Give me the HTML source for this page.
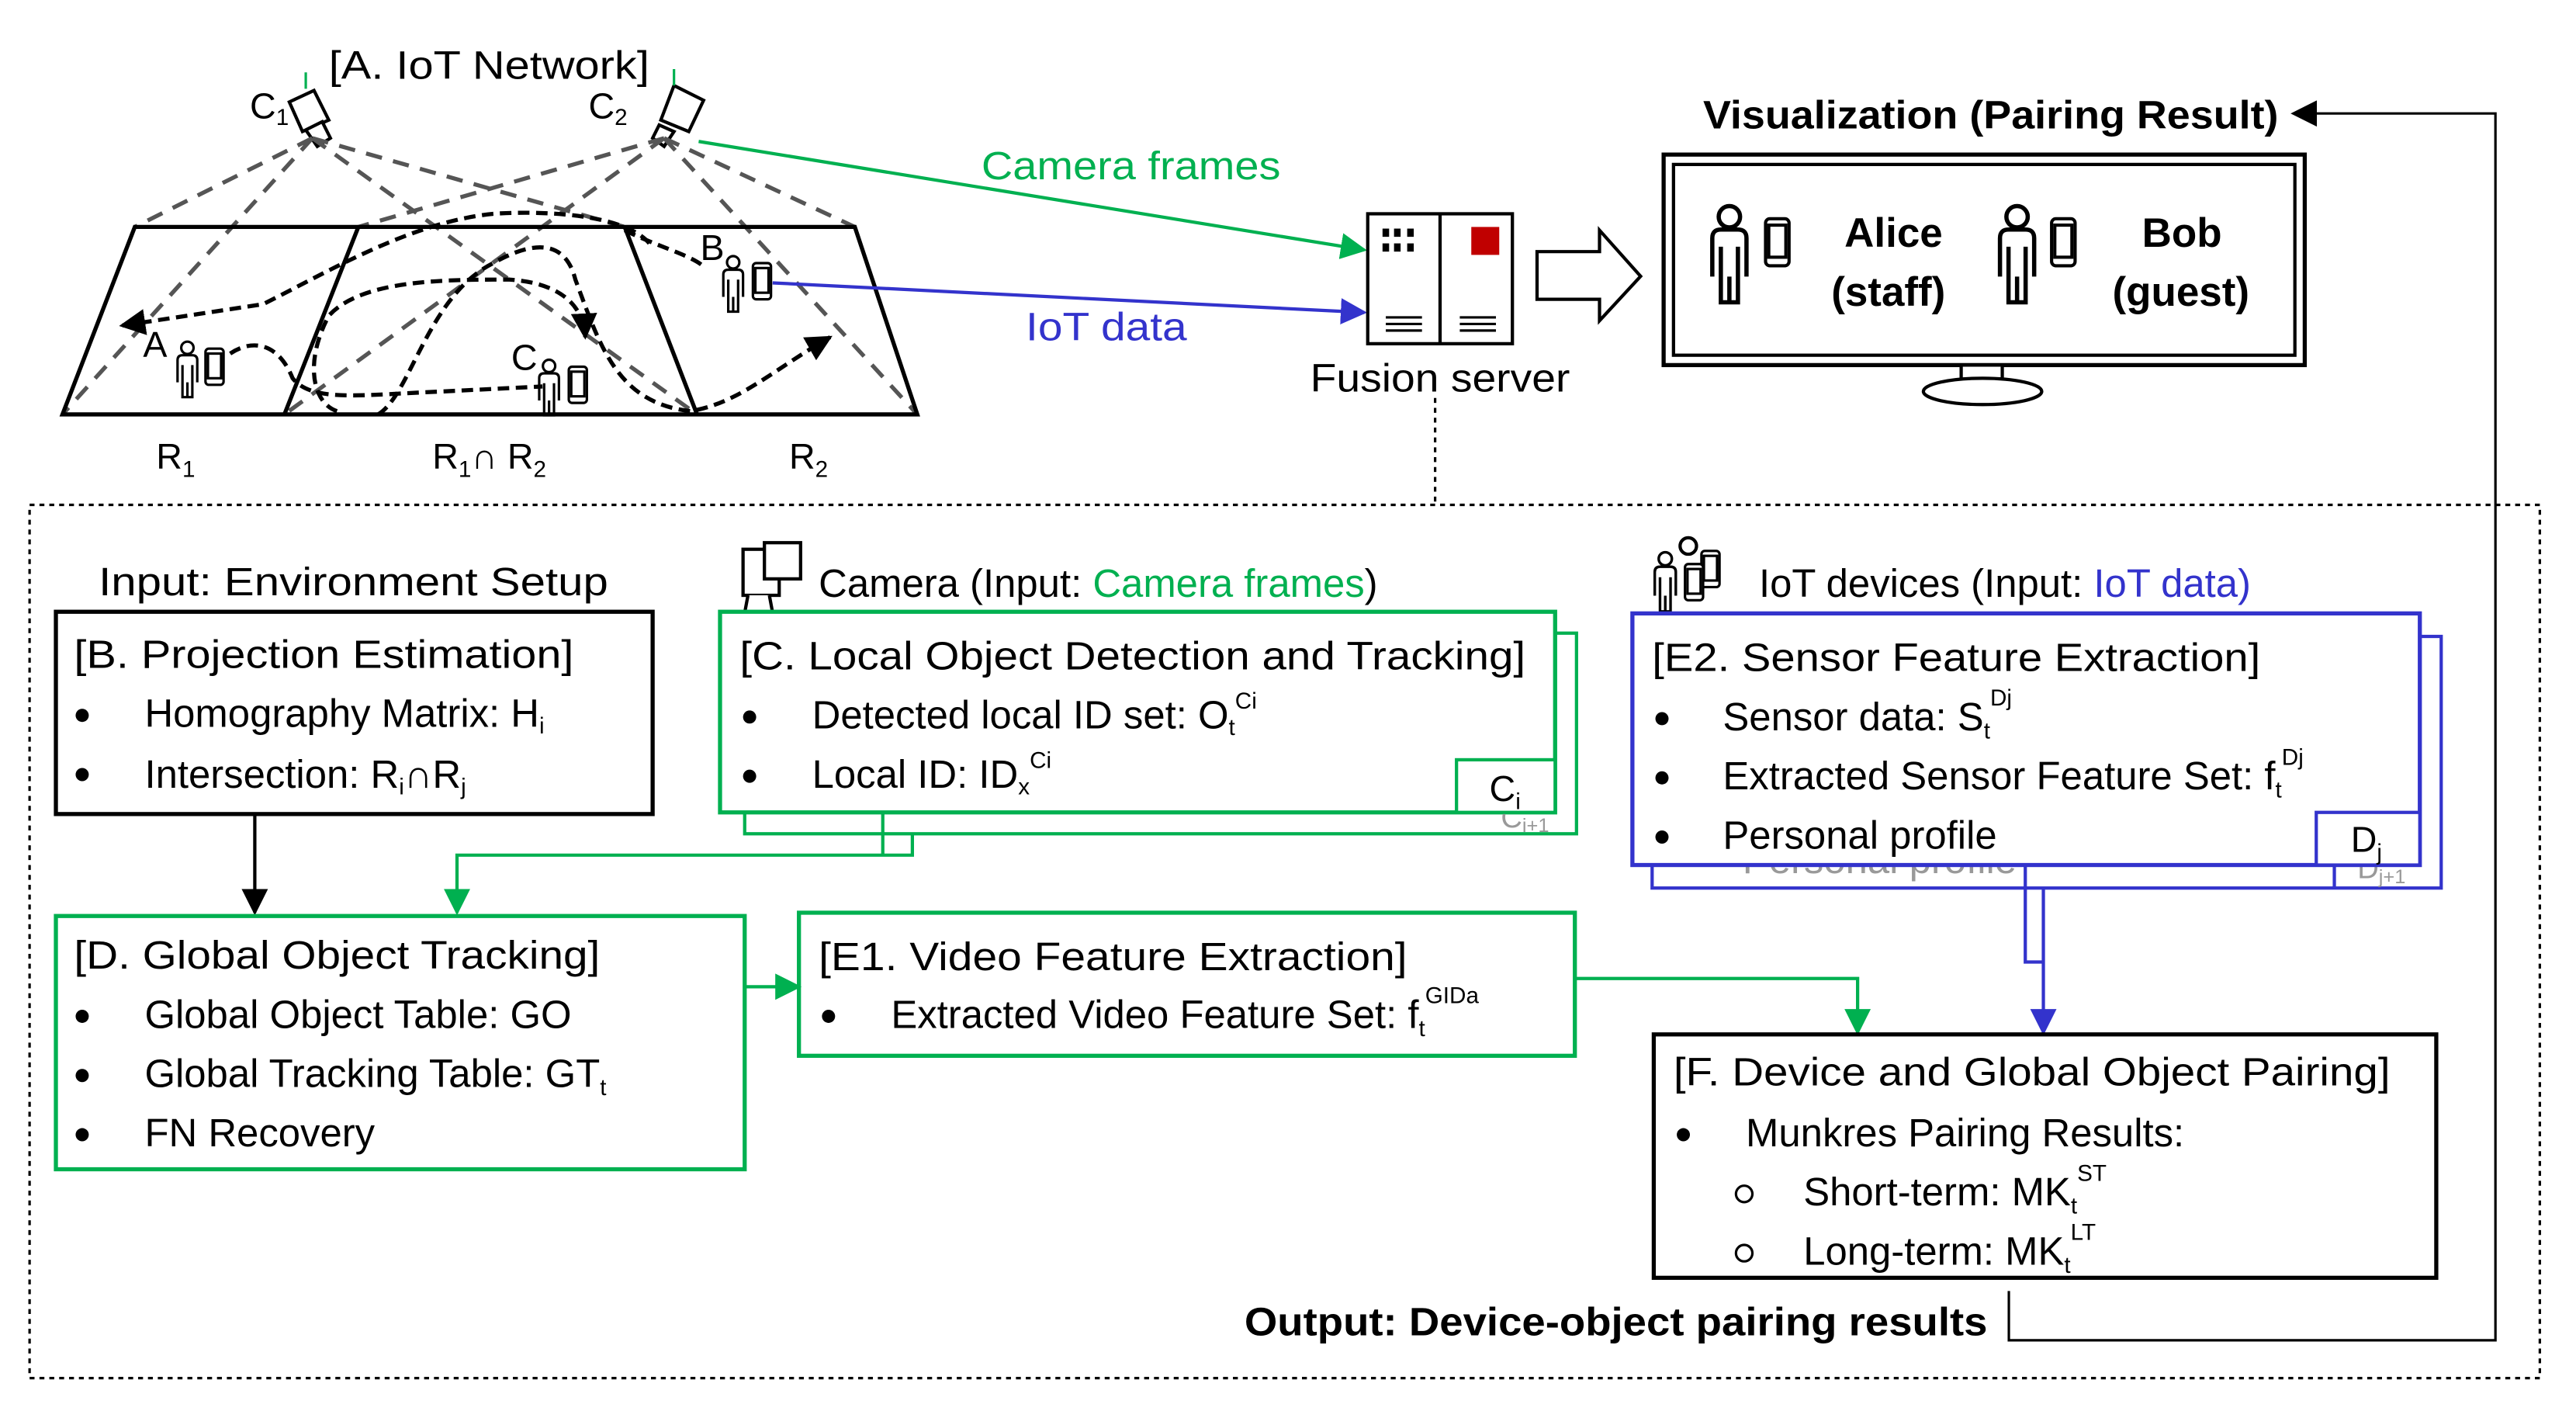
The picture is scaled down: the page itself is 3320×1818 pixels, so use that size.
<!DOCTYPE html>
<html><head><meta charset="utf-8"><style>
html,body{margin:0;padding:0;background:#fff;}
svg{display:block;}
text{font-family:"Liberation Sans",sans-serif;fill:#000;}
.g{fill:#00b050}.b{fill:#3333cc}
</style></head><body>
<svg width="3320" height="1818" viewBox="0 0 1567 858" preserveAspectRatio="none" xmlns="http://www.w3.org/2000/svg">
<defs>
<marker id="ag" viewBox="0 0 10 10" markerWidth="16" markerHeight="16" refX="9" refY="5" orient="auto" markerUnits="userSpaceOnUse"><path d="M0,0 L10,5 L0,10z" fill="#00b050"/></marker>
<marker id="ab" viewBox="0 0 10 10" markerWidth="16" markerHeight="16" refX="9" refY="5" orient="auto" markerUnits="userSpaceOnUse"><path d="M0,0 L10,5 L0,10z" fill="#3333cc"/></marker>
<marker id="ak2" viewBox="0 0 10 10" markerWidth="16" markerHeight="16" refX="9" refY="5" orient="auto" markerUnits="userSpaceOnUse"><path d="M0,0 L10,5 L0,10z" fill="#000"/></marker>
<marker id="ad" viewBox="0 0 10 10" markerWidth="16" markerHeight="16" refX="9" refY="5" orient="auto" markerUnits="userSpaceOnUse"><path d="M0,0 L10,5 L0,10z" fill="#000"/></marker>
<g id="person" fill="none" stroke="#000" stroke-width="2">
<circle cx="0" cy="-14" r="5"/><path d="M-8,14 V-4 Q-8,-8 -4,-8 H4 Q8,-8 8,-4 V14 M-4,0 V26 H4 V0 M0,14 V26"/>
</g>
<g id="phone" fill="#fff" stroke="#000" stroke-width="1.5"><rect x="0" y="0" width="11" height="22" rx="2"/><rect x="1.5" y="3" width="8" height="15" fill="none"/></g>
</defs>

<text x="200" y="48" font-size="24" textLength="195" lengthAdjust="spacingAndGlyphs">[A. IoT Network]</text>
<g stroke="#000" stroke-width="2" fill="#fff">
<path d="M176,62 L191,55 L200,73 L184,80z"/><path d="M186,79 L196,74 L201,84 L193,89z"/>
<path d="M410,52 L428,61 L419,80 L402,73z"/><path d="M401,76 L410,80 L404,89 L397,84z"/>
</g>
<path d="M186,44 V54 M410,42 V52" stroke="#00b050" stroke-width="1.5"/>
<text x="152" y="72" font-size="22">C<tspan font-size="14" dy="4">1</tspan></text>
<text x="358" y="72" font-size="22">C<tspan font-size="14" dy="4">2</tspan></text>
<g stroke="#555" stroke-width="2.5" stroke-dasharray="10,7" fill="none">
<path d="M190,84 L82,138 M190,84 L38,252 M190,84 L424,252 M190,84 L380,138"/>
<path d="M404,84 L218,138 M404,84 L173,252 M404,84 L558,252 M404,84 L520,138"/>
</g>
<g stroke="#000" stroke-width="2.5" fill="none">
<path d="M82,138 H520 L558,252 H38 Z"/>
<path d="M218,138 L173,252 M380,138 L424,252"/>
</g>
<g stroke="#000" stroke-width="2.5" stroke-dasharray="7,4" fill="none">
<path d="M395,148 C380,130 330,128 300,130 C250,135 200,165 160,185 L74,198" marker-end="url(#ad)"/>
<path d="M205,250 C190,245 185,220 200,192 C220,170 270,170 310,170 C340,172 355,185 356,205" marker-end="url(#ad)"/>
<path d="M140,215 C155,205 170,210 178,230 C190,245 220,240 270,238 L330,235"/>
<path d="M230,252 C250,240 260,180 300,160 C330,143 345,150 350,170 C365,210 375,245 420,250 C450,245 470,225 505,205" marker-end="url(#ad)"/>
<path d="M380,140 C400,150 420,155 428,162"/>
</g>
<text x="87" y="217" font-size="22">A</text>
<text x="311" y="225" font-size="22">C</text>
<text x="426" y="158" font-size="22">B</text>
<g transform="translate(114,222) scale(0.75)"><use href="#person"/></g>
<use href="#phone" x="125" y="212"/>
<g transform="translate(334,233) scale(0.75)"><use href="#person"/></g>
<use href="#phone" x="346" y="223"/>
<g transform="translate(446,170) scale(0.75)"><use href="#person"/></g>
<use href="#phone" x="458" y="160"/>
<text x="95" y="285" font-size="22">R<tspan font-size="14" dy="5">1</tspan></text>
<text x="263" y="285" font-size="22">R<tspan font-size="14" dy="5">1</tspan><tspan dy="-5">∩ R</tspan><tspan font-size="14" dy="5">2</tspan></text>
<text x="480" y="285" font-size="22">R<tspan font-size="14" dy="5">2</tspan></text>

<line x1="425" y1="86" x2="830" y2="152" stroke="#00b050" stroke-width="2" marker-end="url(#ag)"/>
<line x1="470" y1="172" x2="830" y2="190" stroke="#3333cc" stroke-width="2" marker-end="url(#ab)"/>
<text x="597" y="109" font-size="24" class="g" textLength="182" lengthAdjust="spacingAndGlyphs">Camera frames</text>
<text x="624" y="207" font-size="24" class="b" textLength="98" lengthAdjust="spacingAndGlyphs">IoT data</text>

<g stroke="#000" stroke-width="2" fill="#fff">
<rect x="832" y="130" width="88" height="79"/><line x1="876" y1="130" x2="876" y2="209"/>
</g>
<g fill="#000"><rect x="841" y="139" width="4" height="5"/><rect x="848" y="139" width="4" height="5"/><rect x="856" y="139" width="4" height="5"/><rect x="841" y="148" width="4" height="5"/><rect x="848" y="148" width="4" height="5"/><rect x="856" y="148" width="4" height="5"/></g>
<rect x="895" y="138" width="17" height="17" fill="#c00000"/>
<g stroke="#000" stroke-width="1.5"><path d="M843,193 H865 M843,197 H865 M843,201 H865 M888,193 H910 M888,197 H910 M888,201 H910"/></g>
<text x="797" y="238" font-size="24" textLength="158" lengthAdjust="spacingAndGlyphs">Fusion server</text>
<path d="M935,153 H973 V140 L998,168 L973,195 V182 H935 Z" fill="#fff" stroke="#000" stroke-width="2"/>

<text x="1036" y="78" font-size="24" font-weight="bold" textLength="350" lengthAdjust="spacingAndGlyphs">Visualization (Pairing Result)</text>
<rect x="1012" y="94" width="390" height="128" fill="none" stroke="#000" stroke-width="2.5"/>
<rect x="1018" y="100" width="378" height="116" fill="none" stroke="#000" stroke-width="2"/>
<rect x="1193" y="222" width="25" height="12" fill="#fff" stroke="#000" stroke-width="2"/>
<ellipse cx="1206" cy="238" rx="36" ry="8" fill="#fff" stroke="#000" stroke-width="2"/>
<g transform="translate(1052,150) scale(1.3)"><use href="#person"/></g>
<g transform="translate(1074,133) scale(1.3)"><use href="#phone"/></g>
<g transform="translate(1227,150) scale(1.3)"><use href="#person"/></g>
<g transform="translate(1248,133) scale(1.3)"><use href="#phone"/></g>
<text x="1122" y="150" font-size="25" font-weight="bold">Alice</text>
<text x="1114" y="186" font-size="25" font-weight="bold">(staff)</text>
<text x="1303" y="150" font-size="25" font-weight="bold">Bob</text>
<text x="1285" y="186" font-size="25" font-weight="bold">(guest)</text>
<path d="M1222,785 V815 H1518 V69 H1395" fill="none" stroke="#000" stroke-width="1.5" marker-end="url(#ak2)"/>

<path d="M873,242 V305" stroke="#000" stroke-width="1.5" stroke-dasharray="3,3"/>
<rect x="18" y="307" width="1527" height="531" fill="none" stroke="#000" stroke-width="1.5" stroke-dasharray="3,3"/>

<text x="60" y="362" font-size="24" textLength="310" lengthAdjust="spacingAndGlyphs">Input: Environment Setup</text>
<rect x="34" y="372" width="363" height="123" fill="none" stroke="#000" stroke-width="2.5"/>
<text x="45" y="406" font-size="24" textLength="304" lengthAdjust="spacingAndGlyphs">[B. Projection Estimation]</text>
<circle cx="50" cy="435" r="4"/><circle cx="50" cy="471" r="4"/>
<text x="88" y="442" font-size="24">Homography Matrix: H<tspan font-size="14" dy="4">i</tspan></text>
<text x="88" y="479" font-size="24">Intersection: R<tspan font-size="14" dy="4">i</tspan><tspan dy="-4">∩R</tspan><tspan font-size="14" dy="4">j</tspan></text>
<line x1="155" y1="495" x2="155" y2="555" stroke="#000" stroke-width="2" marker-end="url(#ak2)"/>

<g stroke="#000" stroke-width="2" fill="#fff">
<rect x="452" y="334" width="22" height="28"/><rect x="465" y="330" width="22" height="22"/><path d="M455,362 L452,378 H471 L468,362"/>
</g>
<text x="498" y="363" font-size="24">Camera (Input: <tspan class="g">Camera frames</tspan>)</text>
<rect x="453" y="385" width="506" height="122" fill="none" stroke="#00b050" stroke-width="2"/>
<rect x="438" y="372" width="508" height="122" fill="#fff" stroke="#00b050" stroke-width="2.5"/>
<text x="913" y="503" font-size="18" style="fill:#999">C<tspan font-size="12" dy="3">i+1</tspan></text>
<rect x="886" y="462" width="60" height="32" fill="#fff" stroke="#00b050" stroke-width="2"/>
<text x="906" y="487" font-size="22">C<tspan font-size="14" dy="5">i</tspan></text>
<text x="450" y="407" font-size="24" textLength="478" lengthAdjust="spacingAndGlyphs">[C. Local Object Detection and Tracking]</text>
<circle cx="456" cy="436" r="4"/><circle cx="456" cy="472" r="4"/>
<text x="494" y="443" font-size="24">Detected local ID set: O<tspan font-size="14" dy="4">t</tspan><tspan font-size="14" dy="-16">Ci</tspan></text>
<text x="494" y="479" font-size="24">Local ID: ID<tspan font-size="14" dy="4">x</tspan><tspan font-size="14" dy="-16">Ci</tspan></text>
<path d="M537,494 V520 M555,507 V520 H278 V555" fill="none" stroke="#00b050" stroke-width="2" marker-end="url(#ag)"/>

<rect x="34" y="557" width="419" height="154" fill="none" stroke="#00b050" stroke-width="2.5"/>
<text x="45" y="589" font-size="24" textLength="320" lengthAdjust="spacingAndGlyphs">[D. Global Object Tracking]</text>
<circle cx="50" cy="618" r="4"/><circle cx="50" cy="654" r="4"/><circle cx="50" cy="690" r="4"/>
<text x="88" y="625" font-size="24">Global Object Table: GO</text>
<text x="88" y="661" font-size="24">Global Tracking Table: GT<tspan font-size="14" dy="5">t</tspan></text>
<text x="88" y="697" font-size="24">FN Recovery</text>
<line x1="453" y1="600" x2="486" y2="600" stroke="#00b050" stroke-width="2" marker-end="url(#ag)"/>

<rect x="486" y="555" width="472" height="87" fill="none" stroke="#00b050" stroke-width="2.5"/>
<text x="498" y="590" font-size="24" textLength="358" lengthAdjust="spacingAndGlyphs">[E1. Video Feature Extraction]</text>
<circle cx="504" cy="618" r="4"/>
<text x="542" y="625" font-size="24">Extracted Video Feature Set: f<tspan font-size="14" dy="5">t</tspan><tspan font-size="14" dy="-20">GIDa</tspan></text>
<path d="M958,595 H1130 V628" fill="none" stroke="#00b050" stroke-width="2" marker-end="url(#ag)"/>

<g transform="translate(1003,327)">
<g transform="translate(10,24) scale(0.8)"><use href="#person"/></g>
<circle cx="24" cy="5" r="5" fill="none" stroke="#000" stroke-width="2"/>
<use href="#phone" x="32" y="8"/><use href="#phone" x="22" y="16"/>
</g>
<text x="1070" y="363" font-size="24">IoT devices (Input: <tspan class="b">IoT data)</tspan></text>
<rect x="1005" y="387" width="480" height="153" fill="#fff" stroke="#3333cc" stroke-width="2"/>
<text x="1060" y="531" font-size="24" style="fill:#999">Personal profile</text>
<text x="1434" y="534" font-size="18" style="fill:#999">D<tspan font-size="12" dy="3">j+1</tspan></text>
<line x1="1420" y1="526" x2="1420" y2="540" stroke="#3333cc" stroke-width="2"/>
<rect x="993" y="373" width="479" height="153" fill="#fff" stroke="#3333cc" stroke-width="2.5"/>
<rect x="1409" y="494" width="63" height="32" fill="#fff" stroke="#3333cc" stroke-width="2"/>
<text x="1430" y="518" font-size="22">D<tspan font-size="14" dy="5">j</tspan></text>
<text x="1005" y="408" font-size="24" textLength="370" lengthAdjust="spacingAndGlyphs">[E2. Sensor Feature Extraction]</text>
<circle cx="1011" cy="437" r="4"/><circle cx="1011" cy="473" r="4"/><circle cx="1011" cy="509" r="4"/>
<text x="1048" y="444" font-size="24">Sensor data: S<tspan font-size="14" dy="5">t</tspan><tspan font-size="14" dy="-20">Dj</tspan></text>
<text x="1048" y="480" font-size="24">Extracted Sensor Feature Set: f<tspan font-size="14" dy="5">t</tspan><tspan font-size="14" dy="-20">Dj</tspan></text>
<text x="1048" y="516" font-size="24">Personal profile</text>
<path d="M1232,526 V585 H1243 M1243,540 V628" fill="none" stroke="#3333cc" stroke-width="2" marker-end="url(#ab)"/>

<rect x="1006" y="629" width="476" height="148" fill="none" stroke="#000" stroke-width="2.5"/>
<text x="1018" y="660" font-size="24" textLength="436" lengthAdjust="spacingAndGlyphs">[F. Device and Global Object Pairing]</text>
<circle cx="1024" cy="690" r="4"/>
<text x="1062" y="697" font-size="24">Munkres Pairing Results:</text>
<circle cx="1061" cy="726" r="5" fill="none" stroke="#000" stroke-width="1.5"/>
<circle cx="1061" cy="762" r="5" fill="none" stroke="#000" stroke-width="1.5"/>
<text x="1097" y="733" font-size="24">Short-term: MK<tspan font-size="14" dy="5">t</tspan><tspan font-size="14" dy="-20">ST</tspan></text>
<text x="1097" y="769" font-size="24">Long-term: MK<tspan font-size="14" dy="5">t</tspan><tspan font-size="14" dy="-20">LT</tspan></text>
<text x="757" y="812" font-size="24" font-weight="bold" textLength="452" lengthAdjust="spacingAndGlyphs">Output: Device-object pairing results</text>
</svg>
</body></html>
